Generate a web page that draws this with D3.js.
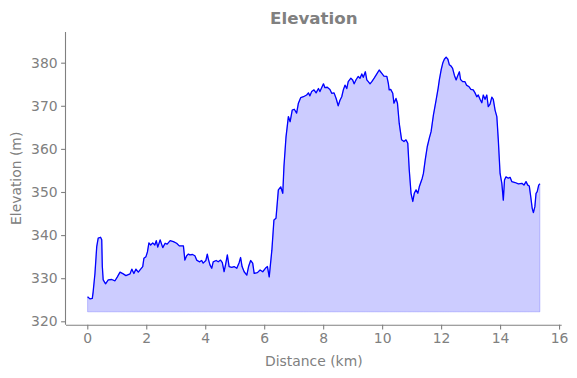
<!DOCTYPE html>
<html>
<head>
<meta charset="utf-8">
<script src="https://cdn.jsdelivr.net/npm/d3@7"></script>
<style>
  html, body { margin: 0; padding: 0; background: #fff; }
  svg { display: block; font-family: "DejaVu Sans", sans-serif; }
</style>
</head>
<body>
<svg id="chart" width="577" height="378"></svg>
<script>
const title = "Elevation";
const xLabel = "Distance (km)";
const yLabel = "Elevation (m)";
const xTicks = [0, 2, 4, 6, 8, 10, 12, 14, 16];
const yTicks = [320, 330, 340, 350, 360, 370, 380];
const baseElevation = 322.2;

const distanceKm = [
  0.01, 0.09, 0.17, 0.20, 0.26, 0.32, 0.37, 0.45, 0.49, 0.51, 0.54, 0.62, 0.71, 0.83, 0.94, 1.02,
  1.11, 1.22, 1.31, 1.45, 1.51, 1.58, 1.65, 1.73, 1.81, 1.88, 1.92, 1.99, 2.04, 2.09, 2.15, 2.22,
  2.29, 2.34, 2.39, 2.47, 2.56, 2.64, 2.71, 2.81, 2.92, 3.03, 3.12, 3.26, 3.31, 3.37, 3.43, 3.48,
  3.57, 3.65, 3.71, 3.80, 3.88, 3.93, 4.02, 4.07, 4.10, 4.16, 4.22, 4.27, 4.37, 4.44, 4.52, 4.58,
  4.64, 4.70, 4.75, 4.81, 4.90, 4.98, 5.07, 5.15, 5.20, 5.25, 5.32, 5.41, 5.47, 5.54, 5.61, 5.66,
  5.77, 5.86, 5.95, 6.04, 6.11, 6.17, 6.26, 6.33, 6.40, 6.48, 6.56, 6.63, 6.67, 6.74, 6.82, 6.88,
  6.95, 7.02, 7.10, 7.16, 7.24, 7.33, 7.44, 7.50, 7.55, 7.61, 7.69, 7.76, 7.84, 7.89, 8.01, 8.06,
  8.14, 8.23, 8.29, 8.37, 8.44, 8.51, 8.57, 8.63, 8.68, 8.74, 8.80, 8.85, 8.94, 9.00, 9.05, 9.12,
  9.19, 9.25, 9.31, 9.36, 9.43, 9.48, 9.53, 9.59, 9.65, 9.73, 9.82, 9.90, 9.99, 10.06, 10.16, 10.21,
  10.24, 10.29, 10.36, 10.40, 10.47, 10.52, 10.58, 10.66, 10.74, 10.81, 10.87, 10.92, 10.98, 11.04, 11.09, 11.15,
  11.21, 11.26, 11.36, 11.40, 11.46, 11.53, 11.60, 11.66, 11.74, 11.83, 11.90, 11.94, 12.00, 12.06, 12.11, 12.17,
  12.23, 12.28, 12.34, 12.39, 12.45, 12.51, 12.56, 12.62, 12.66, 12.73, 12.81, 12.86, 12.95, 13.01, 13.09, 13.15,
  13.21, 13.26, 13.32, 13.38, 13.43, 13.49, 13.55, 13.60, 13.66, 13.72, 13.77, 13.83, 13.89, 13.94, 14.00, 14.06,
  14.11, 14.15, 14.20, 14.28, 14.34, 14.40, 14.51, 14.62, 14.74, 14.81, 14.88, 14.94, 14.99, 15.04, 15.09, 15.13,
  15.18, 15.22, 15.26, 15.31, 15.35
];
const elevationM = [
  325.7, 325.2, 325.3, 326.9, 331.1, 337.3, 339.3, 339.5, 338.9, 332.7, 329.6, 328.7, 329.6, 329.7, 329.4, 330.3,
  331.4, 331.0, 330.6, 331.0, 332.1, 331.1, 332.1, 331.4, 332.1, 332.7, 334.6, 335.0, 336.1, 338.2, 337.7, 338.2,
  337.7, 338.7, 337.2, 338.9, 337.1, 338.1, 337.9, 338.7, 338.5, 338.1, 337.5, 337.5, 334.2, 335.2, 335.6, 335.4,
  335.5, 335.2, 334.2, 333.8, 334.1, 333.5, 334.1, 335.6, 334.6, 333.1, 332.3, 333.8, 334.1, 333.8, 334.2, 333.6,
  331.5, 333.5, 335.4, 332.7, 332.5, 332.7, 332.3, 333.6, 334.8, 332.7, 331.5, 330.7, 332.7, 334.1, 333.5, 331.1,
  331.3, 331.9, 331.5, 332.3, 332.7, 330.3, 336.5, 343.5, 343.9, 350.5, 351.2, 349.7, 355.9, 362.8, 367.5, 366.3,
  369.0, 369.2, 368.3, 370.6, 371.9, 372.1, 372.5, 373.0, 372.3, 373.3, 373.7, 373.0, 374.0, 373.3, 375.1, 374.2,
  374.3, 373.8, 372.9, 373.0, 371.7, 370.0, 371.3, 372.1, 373.6, 374.8, 374.0, 375.6, 376.4, 376.0, 375.1, 376.1,
  376.8, 376.4, 377.4, 376.6, 377.9, 376.0, 375.6, 375.1, 375.6, 376.4, 377.4, 378.3, 377.5, 376.9, 376.8, 375.2,
  373.7, 373.8, 372.9, 370.6, 371.7, 370.6, 365.9, 362.1, 361.7, 362.1, 361.3, 355.1, 349.7, 347.8, 349.7, 350.5,
  349.7, 351.2, 353.2, 354.3, 357.4, 360.5, 362.5, 364.0, 367.9, 371.3, 374.1, 376.0, 378.3, 380.0, 380.8, 381.3,
  380.8, 379.5, 379.2, 378.7, 377.1, 376.0, 376.9, 377.9, 376.1, 375.6, 375.6, 374.8, 374.4, 373.8, 373.7, 373.0,
  372.1, 372.5, 371.5, 370.7, 372.5, 371.5, 372.5, 369.8, 370.4, 372.0, 371.5, 369.0, 367.5, 362.1, 354.3, 352.0,
  348.1, 352.8, 353.5, 353.2, 353.4, 352.4, 352.2, 351.9, 352.0, 351.6, 352.4, 351.6, 351.4, 348.9, 346.2, 345.2,
  346.6, 349.7, 350.1, 351.6, 351.9
];

const data = distanceKm.map((d, i) => ({ x: d, y: elevationM[i] }));

const svg = d3.select("#chart");
const gray = "#808080";
const plotLeft = 66, plotRight = 561.7, plotTop = 32, plotBottom = 324.7;

const x = d3.scaleLinear().domain([-0.722, 16.09]).range([plotLeft, plotRight]);
const y = d3.scaleLinear().domain([319.21, 387.12]).range([plotBottom, plotTop]);

// area fill
const area = d3.area()
  .x(d => x(d.x))
  .y0(y(baseElevation))
  .y1(d => y(d.y));
svg.append("path")
  .datum(data)
  .attr("d", area)
  .attr("fill", "rgba(0,0,255,0.2)")
  .attr("stroke", "rgba(0,0,255,0.2)")
  .attr("stroke-width", 1);

// line
const line = d3.line().x(d => x(d.x)).y(d => y(d.y));
svg.append("path")
  .datum(data)
  .attr("d", line)
  .attr("fill", "none")
  .attr("stroke", "#0000ff")
  .attr("stroke-width", 1.3)
  .attr("stroke-linejoin", "round");

// axes
const xAxis = svg.append("g")
  .attr("transform", `translate(0,${plotBottom})`)
  .call(d3.axisBottom(x).tickValues(xTicks).tickSize(4.9).tickPadding(3.5).tickFormat(d3.format("d")));
const yAxis = svg.append("g")
  .attr("transform", `translate(${plotLeft},0)`)
  .call(d3.axisLeft(y).tickValues(yTicks).tickSize(4.9).tickPadding(3.5).tickFormat(d3.format("d")));

[xAxis, yAxis].forEach(g => {
  g.select(".domain").attr("stroke", gray).attr("stroke-width", 1.1);
  g.selectAll(".tick line").attr("stroke", gray).attr("stroke-width", 1.1);
  g.selectAll(".tick text")
    .attr("fill", gray)
    .style("font-family", "DejaVu Sans, sans-serif")
    .style("font-size", "13.9px");
});
xAxis.select(".domain").attr("d", `M${plotLeft},0.5H${plotRight}`);
yAxis.select(".domain").attr("d", `M-0.5,${plotTop}V${plotBottom}`);

// labels
svg.append("text")
  .attr("x", (plotLeft + plotRight) / 2)
  .attr("y", 366)
  .attr("text-anchor", "middle")
  .attr("fill", gray)
  .style("font-size", "13.9px")
  .text(xLabel);

svg.append("text")
  .attr("transform", `translate(21,${(plotTop + plotBottom) / 2}) rotate(-90)`)
  .attr("text-anchor", "middle")
  .attr("fill", gray)
  .style("font-size", "13.9px")
  .text(yLabel);

svg.append("text")
  .attr("x", (plotLeft + plotRight) / 2)
  .attr("y", 24)
  .attr("text-anchor", "middle")
  .attr("fill", gray)
  .style("font-size", "16.7px")
  .style("font-weight", "bold")
  .text(title);
</script>
</body>
</html>
